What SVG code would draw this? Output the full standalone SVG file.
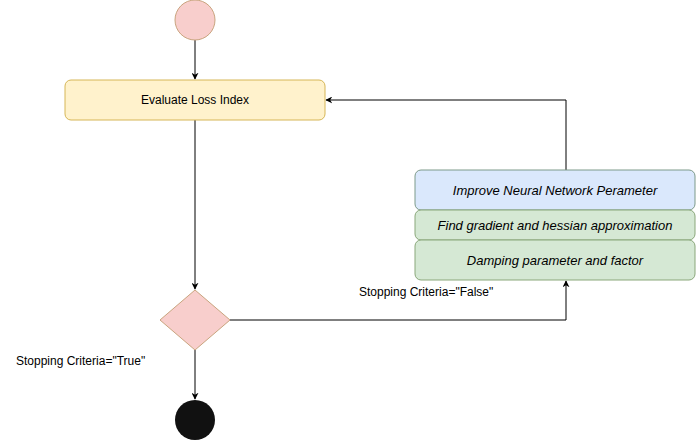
<svg xmlns="http://www.w3.org/2000/svg" width="696" height="441" viewBox="0 0 696 441">
<style>
text{font-family:"Liberation Sans",Arial,sans-serif;font-size:12px;fill:#000}
.c{text-anchor:middle}
.i{font-style:italic;font-size:13px}
.e{fill:none;stroke:#000;stroke-width:1}
</style>
<defs>
<marker id="a" viewBox="0 0 10 10" refX="9" refY="5" markerWidth="7" markerHeight="7" orient="auto" markerUnits="userSpaceOnUse">
<path d="M0,0 L10,5 L0,10 L3,5 Z" fill="#000"/>
</marker>
</defs>
<rect width="696" height="441" fill="#fff"/>
<g id="connectors">
<path class="e" d="M195,40 V79" marker-end="url(#a)"/>
<path class="e" d="M195,120 V289" marker-end="url(#a)"/>
<path class="e" d="M195,350 V399" marker-end="url(#a)"/>
<path class="e" d="M230,320 H566 V281" marker-end="url(#a)"/>
<path class="e" d="M566,170 V100 H326" marker-end="url(#a)"/>
</g>
<g id="start"><circle cx="195" cy="20" r="20" fill="#f8cecc" stroke="#c9a47e"/></g>
<g id="evaluate">
<rect x="65" y="80" width="260" height="40" rx="6" fill="#fff2cc" stroke="#d6b656"/>
<text class="c" x="195" y="104">Evaluate Loss Index</text>
</g>
<g id="improve">
<rect x="415" y="170" width="280" height="40" rx="6" fill="#dae8fc" stroke="#7d9a8a"/>
<text class="c i" x="555" y="195">Improve Neural Network Perameter</text>
</g>
<g id="gradient">
<rect x="415" y="210" width="280" height="30" rx="6" fill="#d5e8d4" stroke="#8aa77a"/>
<text class="c i" x="555" y="230">Find gradient and hessian approximation</text>
</g>
<g id="damping">
<rect x="415" y="240" width="280" height="40" rx="6" fill="#d5e8d4" stroke="#8aa77a"/>
<text class="c i" x="555" y="265">Damping parameter and factor</text>
</g>
<g id="decision"><path d="M195,290 L230,320 L195,350 L160,320 Z" fill="#f8cecc" stroke="#c9a47e"/></g>
<g id="end"><circle cx="195" cy="420" r="20" fill="#111"/></g>
<g id="labels">
<text x="359" y="296">Stopping Criteria="False"</text>
<text x="16" y="365">Stopping Criteria="True"</text>
</g>
</svg>
